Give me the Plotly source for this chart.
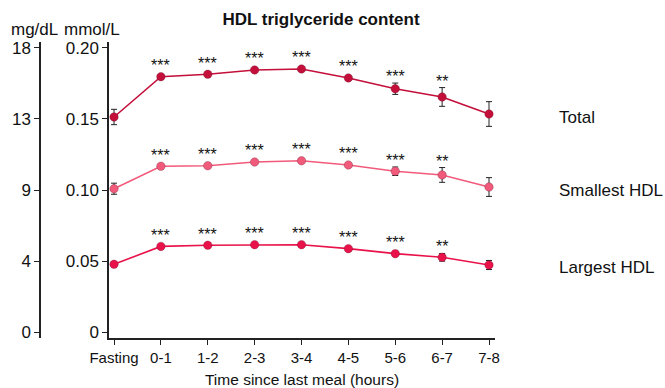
import plotly.graph_objects as go

categories = ["Fasting", "0-1", "1-2", "2-3", "3-4", "4-5", "5-6", "6-7", "7-8"]

total_mean = [0.1514, 0.1798, 0.1815, 0.1845, 0.1852, 0.1789, 0.1713, 0.1655, 0.1535]
total_err = [0.0054, 0.0015, 0.0010, 0.0010, 0.0012, 0.0015, 0.0040, 0.0066, 0.0087]

smallest_mean = [0.1009, 0.1167, 0.1171, 0.1197, 0.1206, 0.1176, 0.1132, 0.1106, 0.1021]
smallest_err = [0.0039, 0.0010, 0.0008, 0.0008, 0.0008, 0.0010, 0.0030, 0.0052, 0.0066]

largest_mean = [0.0477, 0.0603, 0.0611, 0.0615, 0.0615, 0.0587, 0.0552, 0.0526, 0.0472]
largest_err = [0.0014, 0.0008, 0.0008, 0.0008, 0.0008, 0.0010, 0.0012, 0.0027, 0.0032]

stars = ["", "***", "***", "***", "***", "***", "***", "**", ""]

mmol_ticks = [0, 0.05, 0.10, 0.15, 0.20]
mmol_labels = ["0", "0.05", "0.10", "0.15", "0.20"]
mgdl_labels = ["0", "4", "9", "13", "18"]

series = [
    ("Total", total_mean, total_err, "#c40f3a"),
    ("Smallest HDL", smallest_mean, smallest_err, "#f25a7b"),
    ("Largest HDL", largest_mean, largest_err, "#e9124a"),
]

FONT = "Liberation Sans, Arial, sans-serif"
xs = list(range(len(categories)))

fig = go.Figure()
annotations = []
for name, mean, err, color in series:
    fig.add_trace(go.Scatter(
        x=xs, y=mean, mode="lines+markers", name=name,
        line=dict(color=color, width=1.6),
        marker=dict(color=color, size=8.5, line=dict(color="rgba(90,20,40,0.5)", width=0.6)),
        error_y=dict(type="data", array=err, visible=True, color="#222222", thickness=1, width=3),
        showlegend=False, cliponaxis=False,
    ))
    for i, s in enumerate(stars):
        if s:
            off = max(0.0092, err[i] + 0.0058)
            annotations.append(dict(
                x=xs[i], y=mean[i] + off, xref="x", yref="y", text=s, showarrow=False,
                font=dict(family=FONT, size=16, color="#111111"),
                xanchor="center", yanchor="middle", yshift=-2,
            ))
    annotations.append(dict(
        x=xs[-1], y=mean[-1], xref="x", yref="y", text=name, showarrow=False,
        font=dict(family=FONT, size=17, color="#111111"),
        xanchor="left", yanchor="middle", xshift=68, yshift=-3,
    ))

# unit labels
annotations.append(dict(x=34, y=388 - 30, xref="paper", yref="paper", text="mg/dL",
                        showarrow=False, font=dict(family=FONT, size=17, color="#111111")))
annotations.append(dict(x=92, y=388 - 30, xref="paper", yref="paper", text="mmol/L",
                        showarrow=False, font=dict(family=FONT, size=17, color="#111111")))

L, R, T, B = 40, 170, 42, 50
W, H = 665, 388
pw, ph = W - L - R, H - T - B
# convert pixel annotations to paper coords
for a in annotations:
    if a["xref"] == "paper":
        a["x"] = (a["x"] - L) / pw
        a["y"] = (a["y"] - B) / ph
        a["xanchor"] = "center"
        a["yanchor"] = "middle"

yr = [-0.0042, 0.2042]
fig.update_layout(
    width=W, height=H,
    margin=dict(l=L, r=R, t=T, b=B, autoexpand=False),
    plot_bgcolor="white", paper_bgcolor="white",
    font=dict(family=FONT, color="#111111"),
    title=dict(text="<b>HDL triglyceride content</b>", x=(321 - L) / pw, xref="paper",
               xanchor="center", y=1 - 19 / H, yanchor="middle",
               font=dict(family=FONT, size=17, color="#111111")),
    xaxis=dict(
        domain=[69 / pw, 1], range=[-0.107, 8.128], automargin=False,
        tickmode="array", tickvals=xs, ticktext=categories,
        showline=True, linecolor="#222222", linewidth=1.5,
        ticks="outside", ticklen=5, tickwidth=1, tickcolor="#222222",
        showgrid=False, zeroline=False,
        tickfont=dict(family=FONT, size=15, color="#111111"),
        title=dict(text="Time since last meal (hours)", standoff=9,
                   font=dict(family=FONT, size=15.5, color="#111111")),
    ),
    yaxis=dict(
        range=yr, tickmode="array", tickvals=mmol_ticks, ticktext=mmol_labels,
        showline=True, linecolor="#222222", linewidth=1.5, automargin=False,
        ticks="outside", ticklen=5, tickwidth=1, tickcolor="#222222",
        showgrid=False, zeroline=False, anchor="x",
        tickfont=dict(family=FONT, size=17, color="#111111"),
    ),
    yaxis2=dict(
        range=yr, tickmode="array", tickvals=mmol_ticks, ticktext=mgdl_labels,
        overlaying="y", anchor="free", position=0, side="left", automargin=False,
        showline=True, linecolor="#222222", linewidth=1.5,
        ticks="outside", ticklen=5, tickwidth=1, tickcolor="#222222",
        showgrid=False, zeroline=False,
        tickfont=dict(family=FONT, size=17, color="#111111"),
    ),
    annotations=annotations,
)
# dummy trace to show yaxis2
fig.add_trace(go.Scatter(x=[None], y=[None], yaxis="y2", showlegend=False, hoverinfo="skip"))

fig.write_html("out.html")
